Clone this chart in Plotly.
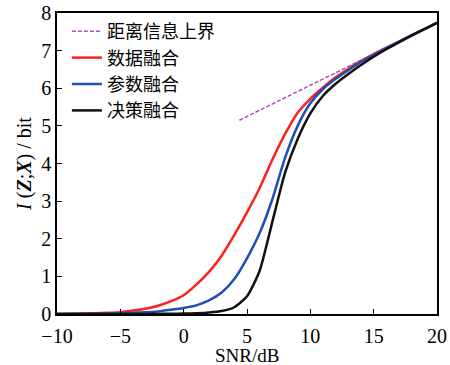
import plotly.graph_objects as go

snr = [-10, -8, -6, -5, -4, -3, -2, -1, 0, 1, 2, 3, 4, 5, 6, 7, 8, 9, 10,
       11, 12, 13, 14, 15, 16, 17, 18, 19, 20]

data_fusion = [0.0, 0.01, 0.03, 0.05, 0.09, 0.14, 0.22, 0.34, 0.5, 0.78, 1.12,
               1.55, 2.1, 2.7, 3.35, 4.1, 4.78, 5.35, 5.72, 6.02, 6.29, 6.52,
               6.73, 6.91, 7.08, 7.24, 7.41, 7.57, 7.74]
param_fusion = [0.0, 0.005, 0.01, 0.02, 0.03, 0.045, 0.07, 0.11, 0.16, 0.23,
                0.36, 0.57, 0.93, 1.48, 2.15, 3.05, 4.15, 5.0, 5.6, 5.98, 6.25,
                6.48, 6.7, 6.89, 7.07, 7.24, 7.41, 7.57, 7.74]
decision_fusion = [0.0, 0.0, 0.0, 0.0, 0.0, 0.002, 0.005, 0.008, 0.01, 0.02,
                   0.04, 0.08, 0.18, 0.47, 1.15, 2.45, 3.75, 4.65, 5.33, 5.8,
                   6.12, 6.38, 6.62, 6.84, 7.04, 7.22, 7.4, 7.57, 7.74]

bound_snr = [4.4, 6, 8, 10, 12, 14, 16, 18, 20]
bound_val = [5.15, 5.42, 5.75, 6.08, 6.41, 6.74, 7.08, 7.41, 7.74]

names = ["距离信息上界", "数据融合", "参数融合", "决策融合"]
x_title = "SNR/dB"
y_title = "<i>I</i> (<b><i>Z</i></b>;<b><i>X</i></b>) / bit"

serif = "Liberation Serif, Times New Roman, serif"
cjk = "Noto Sans CJK SC"

fig = go.Figure()
fig.add_trace(go.Scatter(x=bound_snr, y=bound_val, mode="lines", name=names[0],
                         line=dict(color="#b04cc0", width=1.5, dash="4px,2px")))
fig.add_trace(go.Scatter(x=snr, y=data_fusion, mode="lines", name=names[1],
                         line=dict(color="#ff1f1f", width=2.5, shape="spline", smoothing=0.6)))
fig.add_trace(go.Scatter(x=snr, y=param_fusion, mode="lines", name=names[2],
                         line=dict(color="#1f4fb0", width=2.5, shape="spline", smoothing=0.6)))
fig.add_trace(go.Scatter(x=snr, y=decision_fusion, mode="lines", name=names[3],
                         line=dict(color="#111111", width=2.5, shape="spline", smoothing=0.6)))

axis_common = dict(showgrid=False, zeroline=False, showline=True, linecolor="black",
                   linewidth=1.5, mirror=True, ticks="inside", ticklen=5, tickwidth=1.2,
                   tickcolor="black", automargin=False,
                   tickfont=dict(family=serif, size=20, color="black"))

fig.update_layout(
    width=450, height=365,
    margin=dict(l=57, r=13, t=13, b=51),
    paper_bgcolor="white", plot_bgcolor="white",
    xaxis=dict(range=[-10, 20], tickvals=[-10, -5, 0, 5, 10, 15, 20],
               ticklabelstandoff=3, **axis_common),
    yaxis=dict(range=[0, 8], tickvals=[0, 1, 2, 3, 4, 5, 6, 7, 8],
               title=dict(text=y_title,
                          font=dict(family=serif, size=20, color="black"), standoff=4),
               **axis_common),
    legend=dict(x=0.026, y=1.0, xanchor="left", yanchor="top", bgcolor="rgba(0,0,0,0)",
                font=dict(family=cjk, size=18, color="black"), tracegroupgap=0,
                itemwidth=30),
    showlegend=True,
    annotations=[dict(text=x_title, xref="paper", yref="paper", x=0.5, y=-0.1695,
                      xanchor="center", yanchor="bottom", yshift=-3, showarrow=False,
                      font=dict(family=serif, size=19, color="black"))],
)

fig.write_html("out.html")
